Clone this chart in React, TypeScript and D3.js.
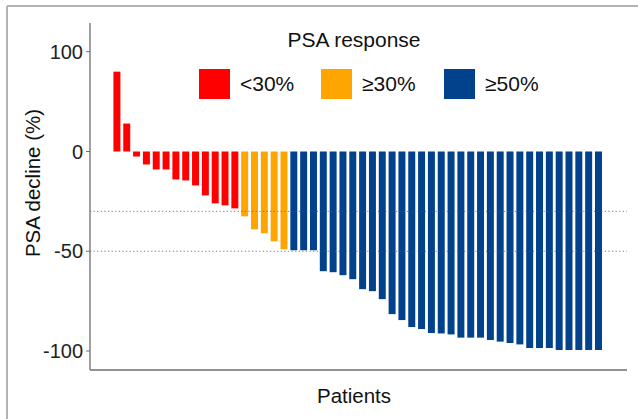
import React from "react";
import * as d3 from "d3";

const redValues = [80, 28, -2.5, -6.5, -9, -9, -14, -14.5, -17, -22, -26, -27, -28.5];
const orangeValues = [-32.5, -39, -41, -45, -49];
const blueValues = [
  -49.5, -49.5, -49.5, -60, -60.5, -62, -64, -69, -70, -74, -81.5, -84.5, -88, -89, -91, -91.2,
  -91.7, -93.3, -93.3, -93.3, -94.5, -95.3, -96, -96.7, -98.5, -98.5, -98.5, -99.5, -99.5, -99.5,
  -99.5, -99.5,
];
const legendLabels = ["<30%", "≥30%", "≥50%"];
const groupColors = ["#FF0000", "#FFA500", "#02418C"];
const yTicks = [100, 0, -50, -100];
const refLines = [-30, -50];

const W = 638;
const H = 419;
const FONT = "'Liberation Sans', Arial, Helvetica, sans-serif";

export default function App() {
  const rows = [
    ...redValues.map((v) => ({ v, g: 0 })),
    ...orangeValues.map((v) => ({ v, g: 1 })),
    ...blueValues.map((v) => ({ v, g: 2 })),
  ].map((d, i) => ({ ...d, id: String(i) }));

  const axisLeft = 90;
  const axisRight = 627;
  const axisBottom = 370;
  const axisTop = 23;

  const x = d3
    .scaleBand<string>()
    .domain(rows.map((d) => d.id))
    .range([112, 603.4])
    .paddingInner(0.29)
    .paddingOuter(0.145);

  const y = d3.scaleLinear().domain([-100, 0, 100]).range([351, 151.5, 51.7]);

  const legendX = [199, 321, 444];

  return (
    <svg
      width={W}
      height={H}
      style={{ position: "absolute", left: 0, top: 0, display: "block", background: "#fff" }}
      fontFamily={FONT}
    >
      <rect x={0} y={0} width={W} height={H} fill="#fff" />
      {/* outer frame */}
      <line x1={7} x2={W} y1={6} y2={6} stroke="#b3b3b3" strokeWidth={2} />
      <line x1={7} x2={7} y1={6} y2={H} stroke="#b3b3b3" strokeWidth={2} />

      {/* bars */}
      {rows.map((d) => (
        <rect
          key={d.id}
          x={x(d.id)}
          width={x.bandwidth()}
          y={Math.min(y(d.v), y(0))}
          height={Math.abs(y(d.v) - y(0))}
          fill={groupColors[d.g]}
        />
      ))}

      {/* reference lines */}
      {refLines.map((r) => (
        <line
          key={r}
          x1={axisLeft}
          x2={axisRight}
          y1={y(r)}
          y2={y(r)}
          stroke="#555"
          strokeWidth={1}
          strokeDasharray="1.2,2.4"
          opacity={0.75}
        />
      ))}

      {/* axes */}
      <line x1={axisLeft} x2={axisLeft} y1={axisTop} y2={axisBottom} stroke="#6e6e6e" strokeWidth={1.3} />
      <line x1={axisLeft} x2={axisRight} y1={axisBottom} y2={axisBottom} stroke="#6e6e6e" strokeWidth={1.3} />
      {yTicks.map((t) => (
        <g key={t}>
          <line x1={axisLeft - 4} x2={axisLeft} y1={y(t)} y2={y(t)} stroke="#6e6e6e" strokeWidth={1} />
          <text x={axisLeft - 7} y={y(t)} dy="0.36em" textAnchor="end" fontSize={20} fill="#222">
            {t}
          </text>
        </g>
      ))}

      {/* axis titles */}
      <text
        transform={`translate(40,183) rotate(-90)`}
        textAnchor="middle"
        fontSize={20.5}
        fill="#111"
      >
        PSA decline (%)
      </text>
      <text x={354} y={402.5} textAnchor="middle" fontSize={20.5} fill="#111">
        Patients
      </text>

      {/* legend */}
      <text x={354} y={47} textAnchor="middle" fontSize={21} fill="#111">
        PSA response
      </text>
      {legendLabels.map((lab, i) => (
        <g key={lab}>
          <rect x={legendX[i]} y={69} width={31} height={30} fill={groupColors[i]} />
          <text x={legendX[i] + 41} y={91} fontSize={21} fill="#111">
            {lab}
          </text>
        </g>
      ))}
    </svg>
  );
}
